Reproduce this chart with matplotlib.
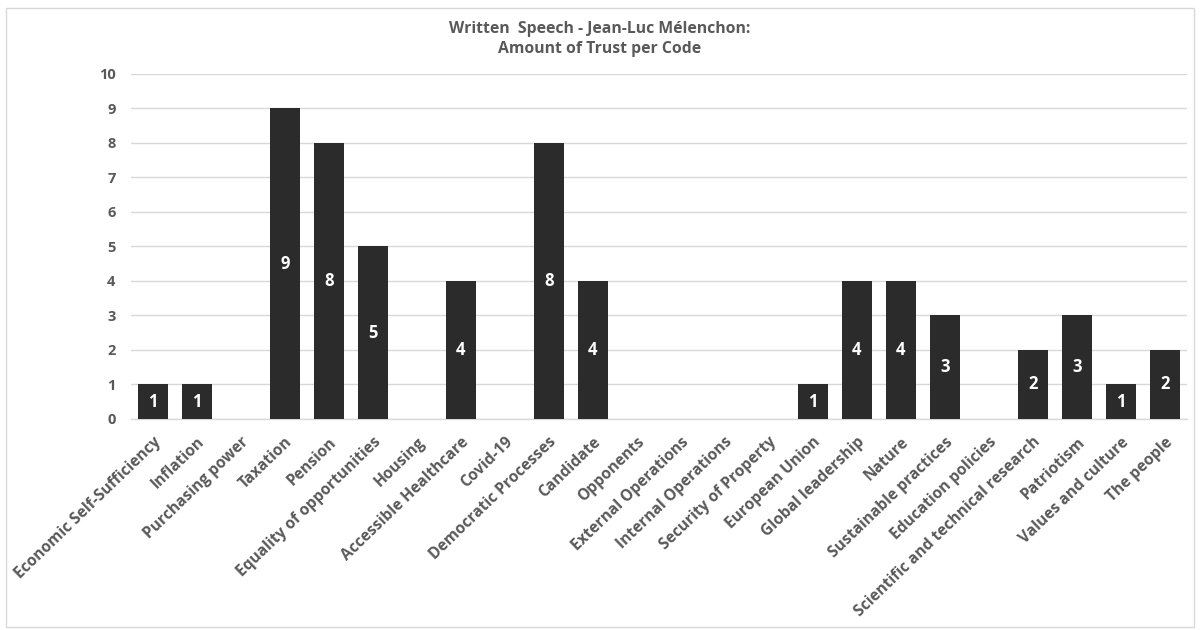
import matplotlib
matplotlib.use("Agg")
import matplotlib.pyplot as plt
from matplotlib.patches import Rectangle

categories = [
    "Economic Self-Sufficiency", "Inflation", "Purchasing power", "Taxation",
    "Pension", "Equality of opportunities", "Housing", "Accessible Healthcare",
    "Covid-19", "Democratic Processes", "Candidate", "Opponents",
    "External Operations", "Internal Operations", "Security of Property",
    "European Union", "Global leadership", "Nature", "Sustainable practices",
    "Education policies", "Scientific and technical research", "Patriotism",
    "Values and culture", "The people",
]
values = [1, 1, 0, 9, 8, 5, 0, 4, 0, 8, 4, 0, 0, 0, 0, 1, 4, 4, 3, 0, 2, 3, 1, 2]
y_ticks = list(range(0, 11))

plt.rcParams["font.family"] = ["Open Sans", "DejaVu Sans"]
text_grey = "#595959"
bar_color = "#2b2b2b"
grid_color = "#d9d9d9"

fig = plt.figure(figsize=(12, 6.3), dpi=100)
ax = fig.add_axes([0.109, 0.335, 0.88, 0.548])

x = list(range(len(categories)))
bars = ax.bar(x, values, width=0.68, color=bar_color, zorder=3)

for rect, v in zip(bars, values):
    if v > 0:
        ax.text(rect.get_x() + rect.get_width() / 2, v / 2, str(v),
                ha="center", va="center", color="white",
                fontsize=12, fontweight="bold", zorder=4)

ax.set_xlim(-0.5, len(categories) - 0.5)
ax.set_ylim(0, 10)
ax.set_yticks(y_ticks)
ax.set_yticklabels([str(t) for t in y_ticks], color=text_grey,
                   fontsize=10.5, fontweight="bold")
ax.set_xticks(x)
ax.set_xticklabels(categories, rotation=44, ha="right", rotation_mode="anchor",
                   color=text_grey, fontsize=11.2, fontweight="bold")
ax.tick_params(axis="both", length=0)
ax.tick_params(axis="y", pad=11)
ax.tick_params(axis="x", pad=11)
ax.yaxis.grid(True, color=grid_color, linewidth=1, zorder=0)
for side in ["top", "right", "left"]:
    ax.spines[side].set_visible(False)
ax.spines["bottom"].set_color(grid_color)
ax.spines["bottom"].set_linewidth(1)

fig.text(0.5, 0.938, "Written  Speech - Jean-Luc Mélenchon:\nAmount of Trust per Code",
         ha="center", va="center", color=text_grey, fontsize=11.3,
         fontweight="bold", linespacing=1.4)

fig.patches.append(Rectangle((0.005, 0.004), 0.99, 0.984, transform=fig.transFigure,
                             fill=False, edgecolor=grid_color, linewidth=1))

fig.savefig("out.png", dpi=100, facecolor="white")
